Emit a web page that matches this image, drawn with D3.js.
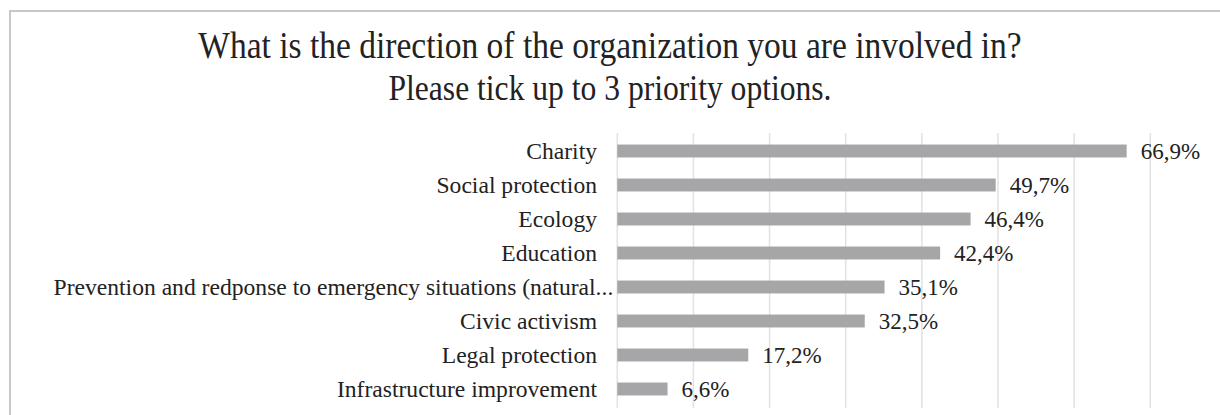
<!DOCTYPE html>
<html>
<head>
<meta charset="utf-8">
<script src="https://cdn.jsdelivr.net/npm/d3@7"></script>
<style>
  html, body { margin: 0; padding: 0; background: #fff; }
  svg { display: block; }
  text { font-family: "Liberation Serif", "Times New Roman", serif; fill: #222; }
</style>
</head>
<body>
<svg id="chart" width="1220" height="415"></svg>
<script>
// Survey answers (share of respondents, %)
const categories = [
  "Charity",
  "Social protection",
  "Ecology",
  "Education",
  "Prevention and redponse to emergency situations (natural...",
  "Civic activism",
  "Legal protection",
  "Infrastructure improvement"
];
const values = [66.9, 49.7, 46.4, 42.4, 35.1, 32.5, 17.2, 6.6];
const valueLabels = ["66,9%", "49,7%", "46,4%", "42,4%", "35,1%", "32,5%", "17,2%", "6,6%"];
const gridTicks = [0, 10, 20, 30, 40, 50, 60, 70, 80];
const titleLines = [
  "What is the direction of the organization you are involved in?",
  "Please tick up to 3 priority options."
];
const titleSizes = [33.5, 31.6];

const svg = d3.select("#chart");
const W = 1220, H = 415;

// outer chart frame
svg.append("rect")
  .attr("x", 10).attr("y", 11)
  .attr("width", W + 20).attr("height", H + 20)
  .attr("fill", "#fff")
  .attr("stroke", "#c8c8c8")
  .attr("stroke-width", 2);

// title (two centred lines, slightly tall glyphs)
svg.append("g").selectAll("text")
  .data(titleLines)
  .join("text")
  .attr("transform", (d, i) => `translate(610,${58 + i * 42}) scale(1,1.1)`)
  .attr("text-anchor", "middle")
  .style("font-size", (d, i) => titleSizes[i] + "px")
  .text(d => d);

const x = d3.scaleLinear().domain([0, 80]).range([617.3, 1226.4]);
const y = d3.scaleBand().domain(categories).range([134, 406]).paddingInner(0.62).paddingOuter(0.31);

// vertical gridlines
svg.append("g").selectAll("line")
  .data(gridTicks)
  .join("line")
  .attr("x1", d => x(d)).attr("x2", d => x(d))
  .attr("y1", 133).attr("y2", 408)
  .attr("stroke", "#e3e3e3")
  .attr("stroke-width", 1.6);

// bars
svg.append("g").selectAll("rect")
  .data(categories)
  .join("rect")
  .attr("x", x(0))
  .attr("y", d => y(d))
  .attr("width", (d, i) => x(values[i]) - x(0))
  .attr("height", y.bandwidth())
  .attr("fill", "#a6a6a8");

// value labels
svg.append("g").selectAll("text")
  .data(categories)
  .join("text")
  .attr("x", (d, i) => x(values[i]) + 14)
  .attr("y", d => y(d) + y.bandwidth() / 2 + 8)
  .style("font-size", "23px")
  .text((d, i) => valueLabels[i]);

// category labels, right aligned to the axis; overlong ones hug the axis
const labelEnd = 597;
const catG = svg.append("g");
catG.selectAll("text")
  .data(categories)
  .join("text")
  .attr("y", d => y(d) + y.bandwidth() / 2 + 8)
  .attr("text-anchor", "end")
  .style("font-size", "23.6px")
  .text(d => d)
  .attr("x", function () {
    const w = this.getComputedTextLength();
    return (labelEnd - w < 60) ? x(0) - 4 : labelEnd;
  });
</script>
</body>
</html>
